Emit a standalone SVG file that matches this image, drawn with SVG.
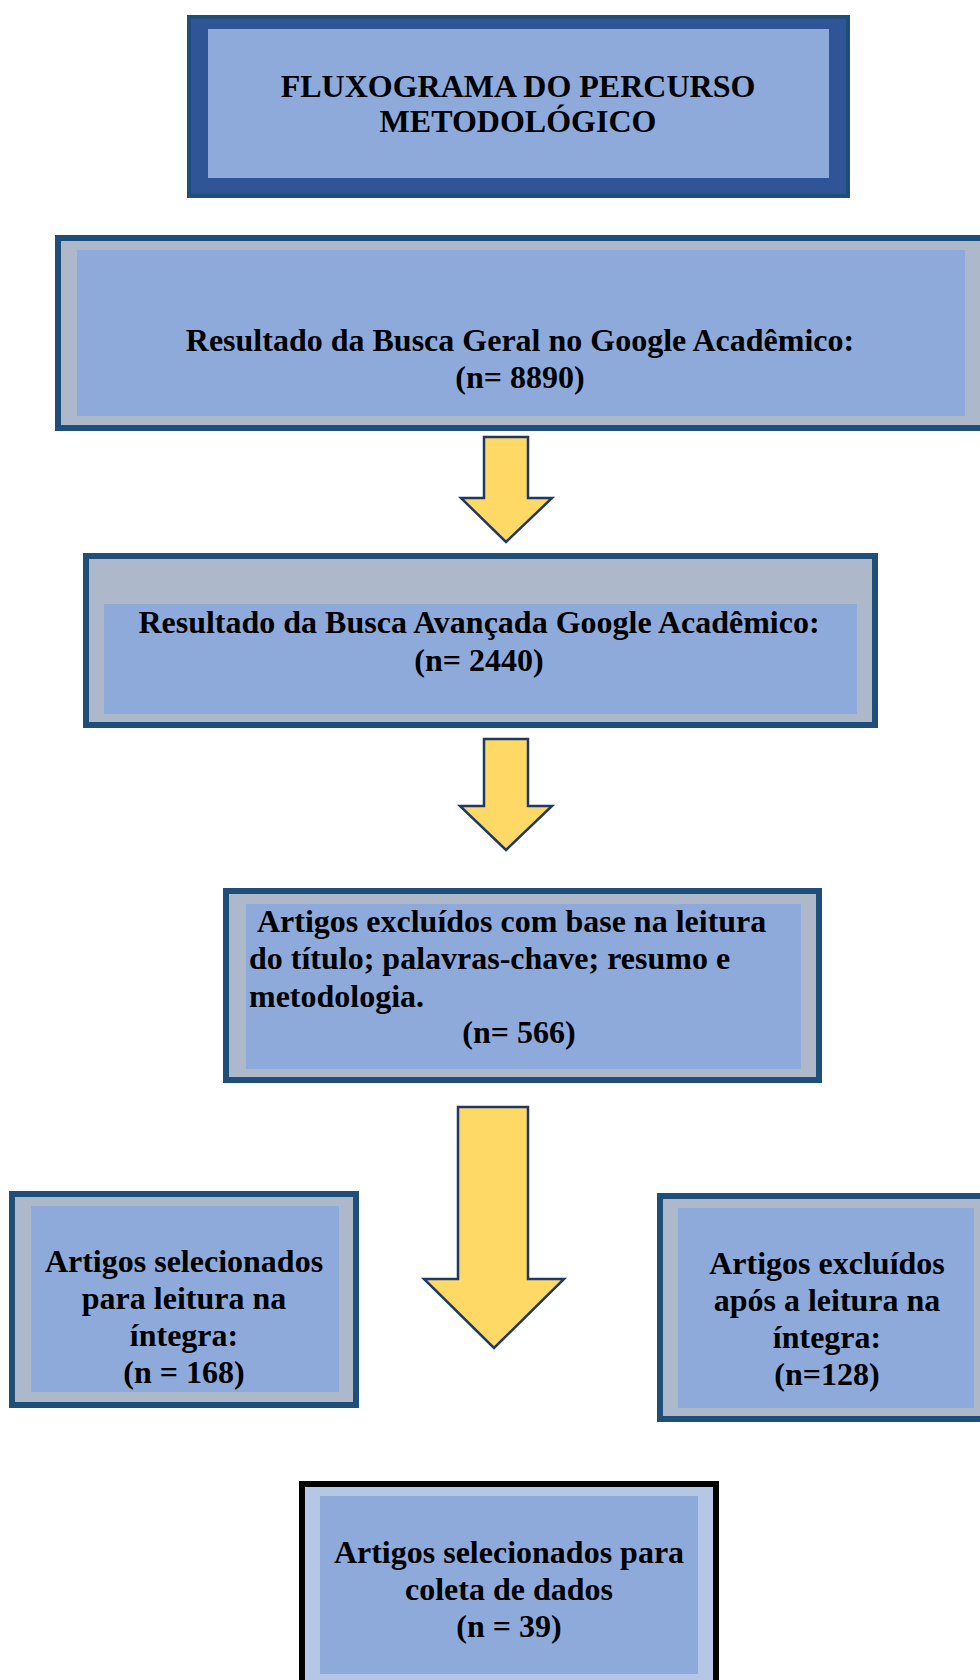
<svg xmlns="http://www.w3.org/2000/svg" width="980" height="1680" viewBox="0 0 980 1680">
<style>
.frame{fill:#ADB9CA;stroke:#1F4E79;stroke-width:6}
.inner{fill:#8EAADB}
.t{font-family:"Liberation Serif","Times New Roman",serif;font-weight:bold;font-size:32px;fill:#000}
.c{text-anchor:middle}
.arrow{fill:#FFD966;stroke:#1F3864;stroke-width:2.5;stroke-linejoin:miter}
</style>
<rect width="980" height="1680" fill="#fff"/>
<g id="title">
<rect x="187" y="15" width="663" height="183" fill="#1F4E79"/>
<rect x="191" y="19" width="655" height="175" fill="#2F5597"/>
<rect x="208" y="29" width="621" height="149" class="inner"/>
<text class="t c" x="518" y="97">FLUXOGRAMA DO PERCURSO</text>
<text class="t c" x="518" y="132">METODOLÓGICO</text>
</g>
<g id="busca-geral">
<rect x="58" y="238" width="940" height="190" class="frame"/>
<rect x="77" y="250" width="888" height="166" class="inner"/>
<text class="t c" x="520" y="351">Resultado da Busca Geral no Google Acadêmico:</text>
<text class="t c" x="520" y="388">(n= 8890)</text>
</g>
<g id="busca-avancada">
<rect x="86" y="556" width="789" height="169" class="frame"/>
<rect x="104" y="604" width="753" height="110" class="inner"/>
<text class="t c" x="479" y="633">Resultado da Busca Avançada Google Acadêmico:</text>
<text class="t c" x="479" y="671">(n= 2440)</text>
</g>
<g id="excluidos-titulo">
<rect x="226" y="891" width="593" height="189" class="frame"/>
<rect x="246" y="904" width="555" height="165" class="inner"/>
<text class="t" x="257" y="932">Artigos excluídos com base na leitura</text>
<text class="t" x="249" y="969">do título; palavras-chave; resumo e</text>
<text class="t" x="249" y="1007">metodologia.</text>
<text class="t c" x="519" y="1043">(n= 566)</text>
</g>
<g id="selecionados-integra">
<rect x="12" y="1194" width="344" height="211" class="frame"/>
<rect x="31" y="1206" width="308" height="186" class="inner"/>
<text class="t c" x="184" y="1272">Artigos selecionados</text>
<text class="t c" x="184" y="1309">para leitura na</text>
<text class="t c" x="184" y="1346">íntegra:</text>
<text class="t c" x="184" y="1383">(n = 168)</text>
</g>
<g id="excluidos-integra">
<rect x="660" y="1196" width="340" height="223" class="frame"/>
<rect x="678" y="1208" width="296" height="200" class="inner"/>
<text class="t c" x="827" y="1274">Artigos excluídos</text>
<text class="t c" x="827" y="1311">após a leitura na</text>
<text class="t c" x="827" y="1348">íntegra:</text>
<text class="t c" x="827" y="1385">(n=128)</text>
</g>
<g id="coleta">
<rect x="302" y="1484" width="414" height="210" fill="#B4C7E7" stroke="#000" stroke-width="6"/>
<rect x="320" y="1496" width="378" height="178" class="inner"/>
<text class="t c" x="509" y="1563">Artigos selecionados para</text>
<text class="t c" x="509" y="1600">coleta de dados</text>
<text class="t c" x="509" y="1637">(n = 39)</text>
</g>
<g id="connectors">
<path class="arrow" d="M484,437 H528 V498 H552 L506,542 L461,498 H484 Z"/>
<path class="arrow" d="M484,739 H528 V806 H552 L506,850 L460,806 H484 Z"/>
<path class="arrow" d="M458,1107 H528 V1279 H564 L494,1348 L424,1279 H458 Z"/>
</g>
</svg>
